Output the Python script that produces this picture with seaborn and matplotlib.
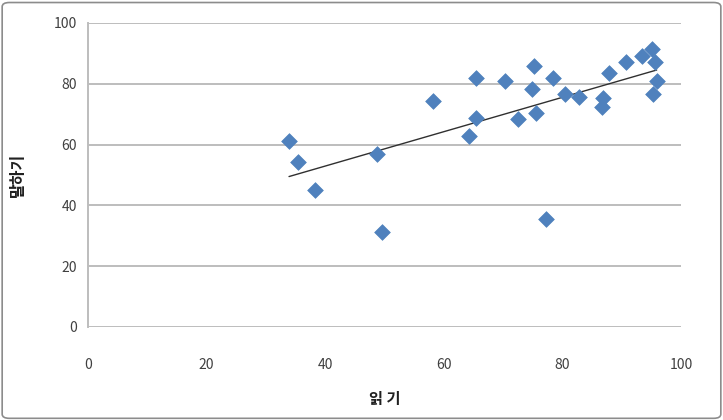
import numpy as np
import pandas as pd
import matplotlib
matplotlib.use("Agg")
import matplotlib.pyplot as plt
from matplotlib.patches import FancyBboxPatch
import seaborn as sns

# reading (읽기) vs speaking (말하기) scores
reading = [33.9, 35.4, 38.2, 48.8, 49.6, 58.1, 64.3, 65.4, 65.4, 70.4, 72.5, 74.8, 75.2, 75.5,
           77.3, 78.4, 80.5, 82.8, 86.6, 86.8, 87.8, 90.7, 93.5, 95.1, 95.6, 95.9, 95.3]
speaking = [61.2, 54.4, 45.1, 56.8, 31.4, 74.3, 62.9, 68.9, 82.0, 80.9, 68.3, 78.2, 85.9, 70.5,
            35.6, 82.0, 76.6, 75.8, 72.5, 75.4, 83.4, 87.2, 89.1, 91.4, 87.2, 80.9, 76.7]
x_ticks = [0, 20, 40, 60, 80, 100]
y_ticks = [0, 20, 40, 60, 80, 100]

df = pd.DataFrame({"reading": reading, "speaking": speaking})

sns.set_style("white")
plt.rcParams['font.family'] = ['Noto Sans CJK KR', 'DejaVu Sans']

fig = plt.figure(figsize=(7.23, 4.20), dpi=100)
ax = fig.add_axes([88 / 723, 1 - 327 / 420, (681 - 88) / 723, (327 - 23) / 420])

# horizontal gridlines like Excel
for yv in y_ticks:
    ax.axhline(yv, color="#bdbdbd", lw=1.4, zorder=0)

sns.scatterplot(data=df, x="reading", y="speaking", marker="D", s=64,
                color="#4f81bd", edgecolor="#4f81bd", linewidth=0.5, ax=ax, zorder=3)

# linear trendline
slope, intercept = np.polyfit(df["reading"], df["speaking"], 1)
xs = np.array([df["reading"].min(), df["reading"].max()])
ax.plot(xs, slope * xs + intercept, color="#303030", lw=1.0, zorder=2)

ax.set_xlim(0, 100)
ax.set_ylim(0, 100)
ax.set_xticks(x_ticks)
ax.set_yticks(y_ticks)
ax.tick_params(axis="both", length=0, labelsize=10, labelcolor="#404040")
ax.tick_params(axis="x", pad=22)
ax.tick_params(axis="y", pad=8)
for side in ["top", "right", "bottom"]:
    ax.spines[side].set_visible(False)
ax.spines["left"].set_color("#bdbdbd")
ax.spines["left"].set_linewidth(1.4)

ax.set_xlabel("읽 기", fontsize=11, fontweight="bold", color="#202020", labelpad=14)
ax.set_ylabel("말하기", fontsize=11.5, fontweight="bold", color="#202020", labelpad=20)

# outer chart border
border = FancyBboxPatch((0.003, 0.004), 0.994, 0.99, boxstyle="round,pad=0,rounding_size=0.01",
                        transform=fig.transFigure, fill=False, edgecolor="#8c8c8c", lw=1.2)
fig.patches.append(border)

fig.savefig("out.png", dpi=100)
